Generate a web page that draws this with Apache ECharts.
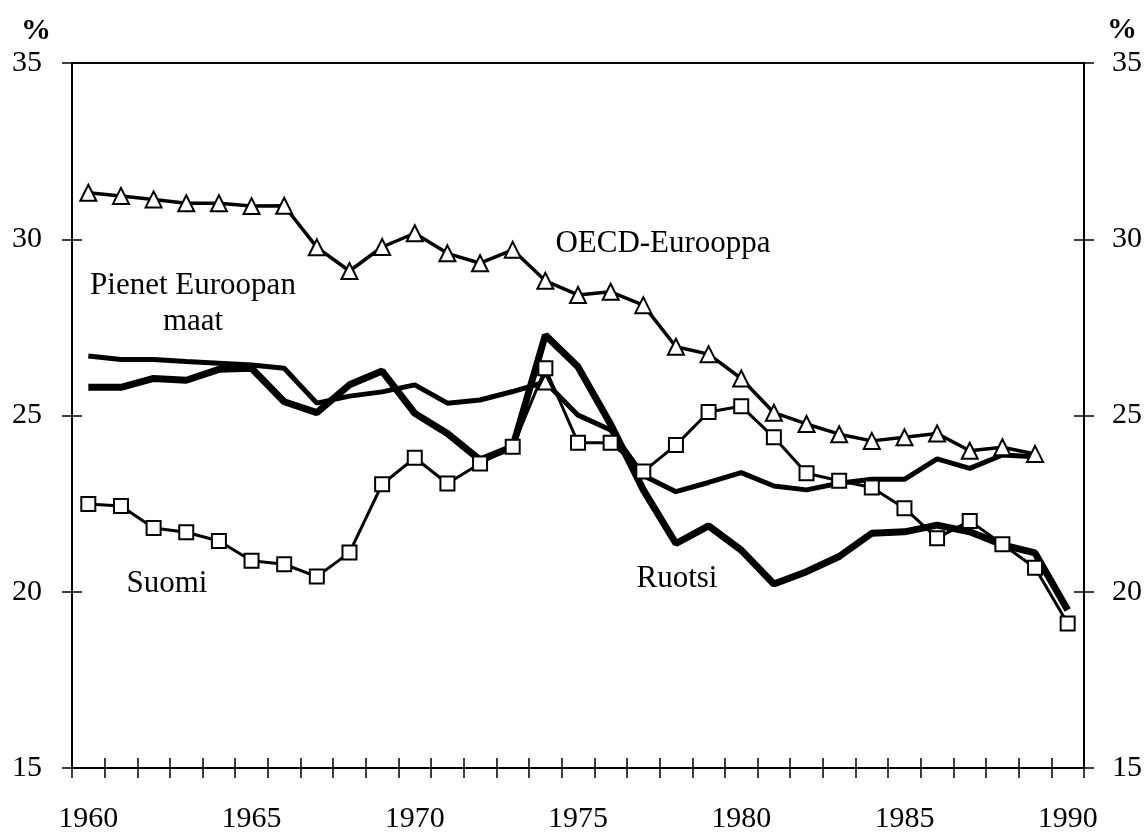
<!DOCTYPE html>
<html>
<head>
<meta charset="utf-8">
<script src="https://cdn.jsdelivr.net/npm/echarts@6/dist/echarts.min.js"></script>
<style>
  html, body { margin: 0; padding: 0; background: #fff; }
  #chart { width: 1148px; height: 835px; }
</style>
</head>
<body>
<div id="chart"></div>
<script>
const years = []
for (let y = 1960; y <= 1990; y++) years.push(String(y))

const oecd = [
  31.32, 31.23, 31.13, 31.02, 31.02, 30.94, 30.95, 29.77, 29.1, 29.78,
  30.17, 29.6, 29.32, 29.7, 28.82, 28.42, 28.51, 28.13, 26.95, 26.74,
  26.05, 25.08, 24.76, 24.47, 24.28, 24.38, 24.49, 24.0, 24.1, 23.91, null,
]
const suomi = [
  22.49, 22.43, 21.81, 21.69, 21.44, 20.88, 20.78, 20.43, 21.11, 23.05,
  23.8, 23.07, 23.64, 24.11, 26.34, 24.23, 24.23, 23.41, 24.16, 25.1,
  25.26, 24.38, 23.36, 23.15, 22.96, 22.37, 21.52, 22.01, 21.35, 20.68, 19.1,
]
const ruotsi = [
  25.8, 25.8, 26.05, 26.0, 26.31, 26.34, 25.39, 25.08, 25.87, 26.26,
  25.06, 24.49, 23.74, 24.11, 27.28, 26.38, 24.75, 22.89, 21.37, 21.87,
  21.18, 20.22, 20.57, 21.0, 21.66, 21.7, 21.89, 21.7, 21.33, 21.1, 19.48,
]
const pienet = [
  26.69, 26.59, 26.59, 26.53, 26.48, 26.43, 26.34, 25.35, 25.55, 25.67,
  25.87, 25.35, 25.44, 25.68, 25.95, 25.01, 24.59, 23.3, 22.84, 23.1,
  23.38, 23.0, 22.89, 23.08, 23.19, 23.19, 23.77, 23.5, 23.88, 23.83, null,
]
// stray triangle drawn on the Pienet line in 1974
const pienetMarkedYear = '1974'

const font = "'Liberation Serif', 'Times New Roman', serif"
const black = '#000'

const myChart = echarts.init(document.getElementById('chart'))

const baseX = {
  type: 'category',
  data: years,
  boundaryGap: true,
  axisLine: { show: false },
  axisTick: { show: false },
  axisLabel: { show: false },
  splitLine: { show: false },
}
const baseY = {
  type: 'value',
  min: 15,
  max: 35,
  interval: 5,
  axisLine: { show: false },
  axisTick: { show: false },
  axisLabel: { show: false },
  splitLine: { show: false },
}
const tick = (inside) => ({
  show: true,
  inside: inside,
  length: 10,
  lineStyle: { color: black, width: 1.5 },
})
const tickLabel = {
  show: true,
  color: black,
  fontFamily: font,
  fontSize: 30,
}

const option = {
  animation: false,
  backgroundColor: '#fff',
  grid: { left: 72, right: 64, top: 63, bottom: 67 },
  xAxis: [
    {
      ...baseX,
      position: 'bottom',
      axisLine: { show: true, lineStyle: { color: black, width: 2 } },
      axisTick: { ...tick(false), interval: 0 },
      axisLabel: { ...tickLabel, interval: 4, margin: 36 },
    },
    {
      ...baseX,
      position: 'bottom',
      axisTick: { ...tick(true), interval: 0 },
    },
    {
      ...baseX,
      position: 'top',
      axisLine: { show: true, lineStyle: { color: black, width: 2 } },
    },
  ],
  yAxis: [
    {
      ...baseY,
      position: 'left',
      axisLine: { show: true, lineStyle: { color: black, width: 2 } },
      axisTick: tick(false),
      axisLabel: { ...tickLabel, margin: 30 },
    },
    { ...baseY, position: 'left', axisTick: tick(true) },
    {
      ...baseY,
      position: 'right',
      axisLine: { show: true, lineStyle: { color: black, width: 2 } },
      axisTick: tick(false),
      axisLabel: { ...tickLabel, margin: 28 },
    },
    { ...baseY, position: 'right', axisTick: tick(true) },
  ],
  series: [
    {
      name: 'Ruotsi',
      type: 'line',
      data: ruotsi,
      symbol: 'none',
      lineStyle: { color: black, width: 7 },
      z: 2,
    },
    {
      name: 'Pienet Euroopan maat',
      type: 'line',
      data: pienet.map((v, i) =>
        years[i] === pienetMarkedYear
          ? { value: v, symbol: 'triangle', symbolSize: 15 }
          : v
      ),
      symbol: 'none',
      itemStyle: { color: '#fff', borderColor: black, borderWidth: 2 },
      lineStyle: { color: black, width: 5 },
      z: 3,
    },
    {
      name: 'OECD-Eurooppa',
      type: 'line',
      data: oecd,
      symbol: 'triangle',
      symbolSize: 16,
      showAllSymbol: true,
      itemStyle: { color: '#fff', borderColor: black, borderWidth: 2 },
      lineStyle: { color: black, width: 3.5 },
      z: 4,
    },
    {
      name: 'Suomi',
      type: 'line',
      data: suomi,
      symbol: 'rect',
      symbolSize: 14,
      showAllSymbol: true,
      itemStyle: { color: '#fff', borderColor: black, borderWidth: 2 },
      lineStyle: { color: black, width: 3 },
      z: 5,
    },
  ],
  graphic: [
    { type: 'text', x: 36, y: 31, style: { text: '%', font: 'bold 30px ' + font, fill: black, align: 'center', verticalAlign: 'middle' } },
    { type: 'text', x: 1122, y: 30, style: { text: '%', font: 'bold 30px ' + font, fill: black, align: 'center', verticalAlign: 'middle' } },
    { type: 'text', x: 663, y: 244, style: { text: 'OECD-Eurooppa', font: '31px ' + font, fill: black, align: 'center', verticalAlign: 'middle' } },
    { type: 'text', x: 193, y: 286, style: { text: 'Pienet Euroopan', font: '31px ' + font, fill: black, align: 'center', verticalAlign: 'middle' } },
    { type: 'text', x: 193, y: 322, style: { text: 'maat', font: '31px ' + font, fill: black, align: 'center', verticalAlign: 'middle' } },
    { type: 'text', x: 167, y: 584, style: { text: 'Suomi', font: '31px ' + font, fill: black, align: 'center', verticalAlign: 'middle' } },
    { type: 'text', x: 677, y: 579, style: { text: 'Ruotsi', font: '31px ' + font, fill: black, align: 'center', verticalAlign: 'middle' } },
  ],
}

option && myChart.setOption(option)
</script>
</body>
</html>
